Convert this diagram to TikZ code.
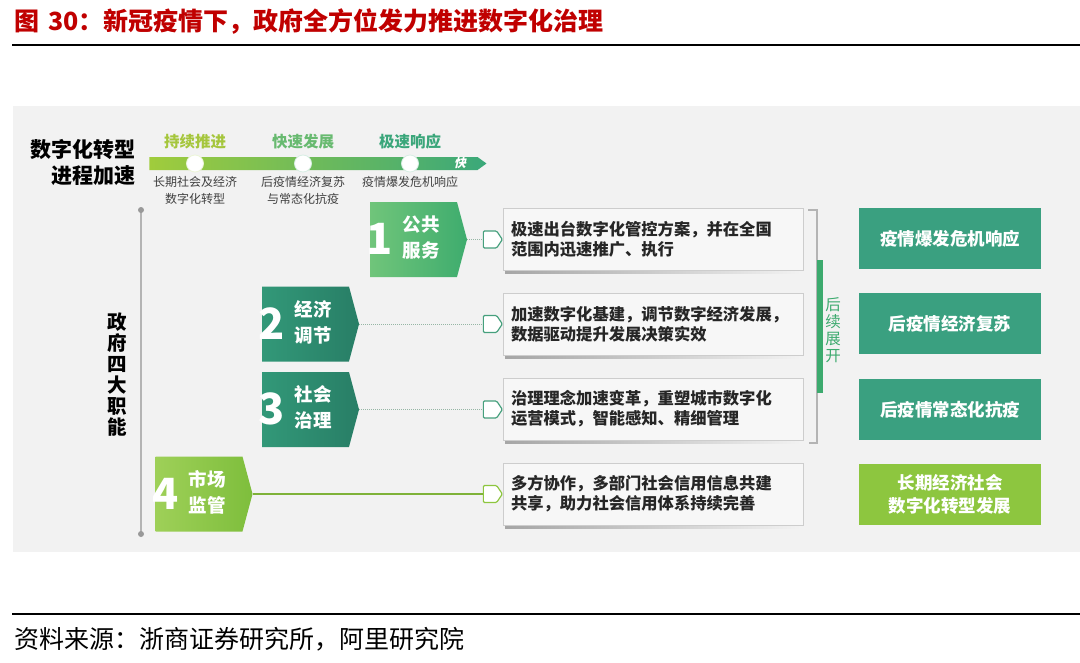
\documentclass[tikz,border=0pt]{standalone}
\usepackage{fontspec}
\setmainfont{Noto Sans CJK SC}
\usetikzlibrary{shapes.symbols}
\definecolor{titlered}{RGB}{192,0,0}
\definecolor{bgc}{RGB}{242,242,242}
\definecolor{tealbox}{RGB}{58,160,128}
\definecolor{ygreen}{RGB}{141,198,63}
\definecolor{b1L}{RGB}{112,197,122}
\definecolor{b1R}{RGB}{62,172,110}
\definecolor{b2L}{RGB}{50,152,120}
\definecolor{b2R}{RGB}{40,126,102}
\definecolor{b4L}{RGB}{158,208,88}
\definecolor{b4R}{RGB}{126,190,60}
\definecolor{tlL}{RGB}{160,204,60}
\definecolor{tlR}{RGB}{58,168,122}
\definecolor{lab1}{RGB}{165,198,60}
\definecolor{lab2}{RGB}{104,186,112}
\definecolor{lab3}{RGB}{58,166,122}
\definecolor{boxborder}{RGB}{205,205,205}
\definecolor{boxfill}{RGB}{247,247,247}
\definecolor{axisgray}{RGB}{180,180,180}
\definecolor{dotline}{RGB}{150,182,165}
\definecolor{tagteal}{RGB}{70,160,125}
\definecolor{greentext}{RGB}{60,170,110}
\newcommand\fsz[2]{\fontsize{#1pt}{#2pt}\selectfont}
\newcommand\numlabel[3]{\raisebox{-11pt}{\fsz{43}{43}\bfseries #1}\hspace{10pt}\begin{tabular}[c]{@{}c@{}}#2\\#3\end{tabular}}
\begin{document}
\begin{tikzpicture}[x=1pt,y=-1pt,
  pent/.style={signal, signal to=east, signal from=nowhere, signal pointer angle=150,
    minimum width=97, minimum height=75, inner sep=0pt, outer sep=0pt},
  blabel/.style={text=white, font=\fsz{18.5}{26}\bfseries, inner sep=0pt},
  tag/.style={signal, signal to=east, signal from=nowhere, signal pointer angle=112,
    minimum width=19, minimum height=17, inner sep=0pt, fill=white, line width=1.2pt,
    rounded corners=1.2pt},
  tbox/.style={draw=boxborder, fill=boxfill, line width=0.8pt, minimum width=300,
    minimum height=62, text width=284, inner sep=8pt, align=left,
    font=\fsz{16.3}{20}\bfseries, text=black!85},
  rbox/.style={minimum width=182, minimum height=61, inner sep=0pt, text=white,
    align=center, font=\fsz{17.5}{22.5}\bfseries},
  toplab/.style={font=\fsz{15.5}{18}\bfseries, inner sep=0pt},
  sublab/.style={font=\fsz{12}{17}, text=black!75, align=center, inner sep=0pt},
  dotconn/.style={draw=dotline, line width=1pt, densely dotted},
]
\useasboundingbox (0,0) rectangle (1080,662);
\fill[white] (0,0) rectangle (1080,662);
% title and rules
\node[anchor=west, inner sep=0pt, text=titlered, font=\fsz{25}{28}\bfseries] (title) at (14,22) {图\hspace{9pt}30：新冠疫情下，政府全方位发力推进数字化治理};
\draw[line width=2pt] (12,45) -- (1080,45);
\fill[bgc] (13,106) rectangle (1080,552);
\draw[line width=2pt] (12,614) -- (1080,614);
\node[anchor=west, inner sep=0pt, font=\fsz{25}{28}] (source) at (14,639) {资料来源：浙商证券研究所，阿里研究院};

% timeline header
\node[anchor=east, inner sep=0pt, font=\fsz{21}{24}\bfseries] (h1) at (136,150) {数字化转型};
\node[anchor=east, inner sep=0pt, font=\fsz{21}{24}\bfseries] (h2) at (136,176) {进程加速};
\node[signal, signal to=east, signal from=nowhere, signal pointer angle=72,
  minimum width=337, minimum height=13, inner sep=0pt, left color=tlL, right color=tlR] (tl) at (313.5,163.5) {};
\node[text=white, font=\fsz{12}{12}\bfseries, inner sep=0pt, xslant=0.25] (kuai) at (461,163) {快};
\node[circle, fill=white, draw=white!80!tlL, line width=0.8pt, minimum size=17, inner sep=0pt] (c1) at (195,163.5) {};
\node[circle, fill=white, draw=white!80!tlR, line width=0.8pt, minimum size=17, inner sep=0pt] (c2) at (303,163.5) {};
\node[circle, fill=white, draw=white!80!tlR, line width=0.8pt, minimum size=17, inner sep=0pt] (c3) at (410,163.5) {};
\node[toplab, text=lab1] (t1) at (195,142) {持续推进};
\node[toplab, text=lab2] (t2) at (303,142) {快速发展};
\node[toplab, text=lab3] (t3) at (410,142) {极速响应};
\node[sublab, anchor=north] (s1) at (195,176) {长期社会及经济\\数字化转型};
\node[sublab, anchor=north] (s2) at (303,176) {后疫情经济复苏\\与常态化抗疫};
\node[sublab, anchor=north] (s3) at (410,176) {疫情爆发危机响应};

% vertical axis
\coordinate (axtop) at (141,210);
\coordinate (axbot) at (141,534);
\draw[axisgray, line width=1.2pt] (axtop) -- (axbot);
\fill[black!40] (axtop) circle (3);
\fill[black!40] (axbot) circle (3);
\node[font=\fsz{19.5}{21}\bfseries, align=center, inner sep=0pt] (gov) at (117,375) {政\\府\\四\\大\\职\\能};

% function boxes
\node[pent, left color=b1L, right color=b1R] (p1) at (413.5,239.5) {};
\node[pent, left color=b2L, right color=b2R] (p2) at (305.5,324) {};
\node[pent, left color=b2L, right color=b2R] (p3) at (305.5,409.5) {};
\node[pent, left color=b4L, right color=b4R] (p4) at (199,494) {};
\node[blabel] (l1) at (403,239.5) {\numlabel{1}{公共}{服务}};
\node[blabel] (l2) at (295,324) {\numlabel{2}{经济}{调节}};
\node[blabel] (l3) at (295,409.5) {\numlabel{3}{社会}{治理}};
\node[blabel] (l4) at (189,494) {\numlabel{4}{市场}{监管}};

% text boxes with shadows
\foreach \n/\y in {1/239, 2/324, 3/409, 4/494}{
  \shade[left color=black!35, right color=bgc] (505,\y+31) rectangle (800,\y+34.5);
}
\node[tbox] (tb1) at (653,239) {极速出台数字化管控方案，并在全国\\范围内迅速推广、执行};
\node[tbox] (tb2) at (653,324) {加速数字化基建，调节数字经济发展，\\数据驱动提升发展决策实效};
\node[tbox] (tb3) at (653,409) {治理理念加速变革，重塑城市数字化\\运营模式，智能感知、精细管理};
\node[tbox] (tb4) at (653,494) {多方协作，多部门社会信用信息共建\\共享，助力社会信用体系持续完善};

% tags and connectors
\node[tag, draw=tagteal] (g1) at (490,239.5) {};
\node[tag, draw=tagteal] (g2) at (490,324) {};
\node[tag, draw=tagteal] (g3) at (490,409.5) {};
\node[tag, draw=ygreen] (g4) at (490,494) {};
\draw[dotconn] (p1.east) -- (g1.west);
\draw[dotconn] (p2.east) -- (g2.west);
\draw[dotconn] (p3.east) -- (g3.west);
\draw[draw=ygreen!90!black, line width=1.2pt] (p4.east) -- (g4.west);

% bracket
\coordinate (brA) at (808,210);
\coordinate (brB) at (817,210);
\coordinate (brC) at (817,443);
\coordinate (brD) at (809,443);
\draw[axisgray, line width=1.2pt] (brA) -- (brB) -- (brC) -- (brD);
\fill[greentext] (817,260) rectangle (823,393);
\node[font=\fsz{15.5}{17}, text=greentext, align=center, inner sep=0pt] (follow) at (833,330) {后\\续\\展\\开};

% outcome boxes
\node[rbox, fill=tealbox] (r1) at (950,238.5) {疫情爆发危机响应};
\node[rbox, fill=tealbox] (r2) at (950,323.5) {后疫情经济复苏};
\node[rbox, fill=tealbox] (r3) at (950,409.5) {后疫情常态化抗疫};
\node[rbox, fill=ygreen] (r4) at (950,494.5) {长期经济社会\\数字化转型发展};
\end{tikzpicture}
\end{document}
